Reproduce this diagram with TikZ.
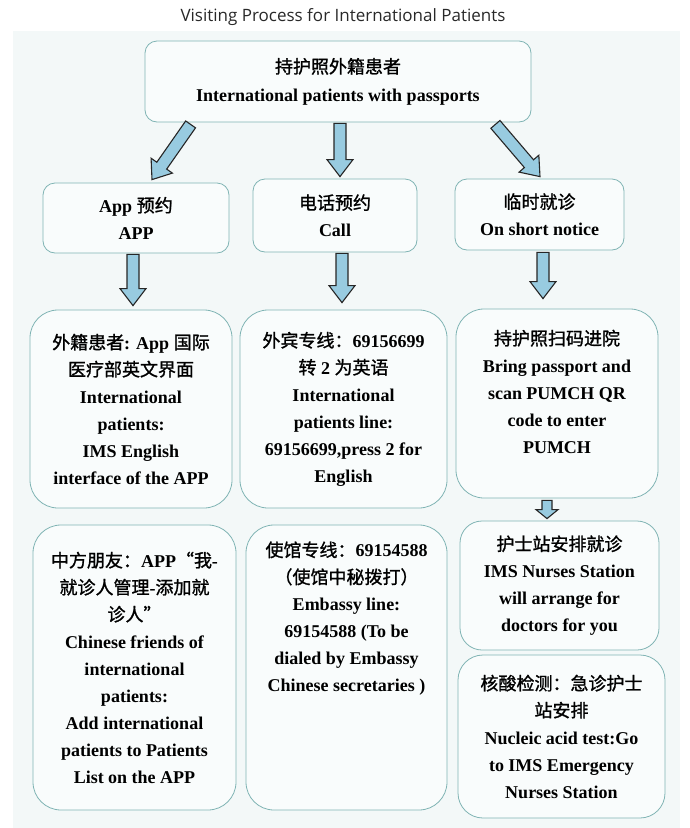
\documentclass[tikz,border=0pt]{standalone}
\usepackage{fontspec}
\setmainfont{Liberation Serif}
\newfontfamily\zhfont{Noto Sans CJK SC}[FakeBold=1.2]
\newfontfamily\titlefont{Open Sans}
\usepackage{xcolor}
\usepackage{tikz}
\usetikzlibrary{calc, positioning}
\definecolor{panelcolor}{RGB}{243,248,248}
\definecolor{boxcolor}{RGB}{249,252,252}
\definecolor{edgecolor}{RGB}{128,180,180}
\definecolor{arrowcolor}{RGB}{152,203,224}
\definecolor{titlecolor}{RGB}{40,40,40}
\newcommand{\zh}[1]{{\zhfont\mdseries #1}}

% fat arrow: start, end, half shaft, half head, head length
\newcommand{\blockarrow}[5]{%
  \path #1 coordinate (ba-s) #2 coordinate (ba-e);
  \coordinate (ba-n) at ($(ba-e)!#5!(ba-s)$);
  \filldraw[arrowbody] ($(ba-s)!#3!90:(ba-e)$) -- ($(ba-n)!#3!90:(ba-e)$)
    -- ($(ba-n)!#4!90:(ba-e)$) -- (ba-e) -- ($(ba-n)!#4!-90:(ba-e)$)
    -- ($(ba-n)!#3!-90:(ba-e)$) -- ($(ba-s)!#3!-90:(ba-e)$) -- cycle;
}

\begin{document}
\begin{tikzpicture}[x=1pt, y=-1pt,
    panelbox/.style={draw=edgecolor, fill=boxcolor, line width=0.8pt, align=center,
      font=\bfseries\fontsize{18}{27}\selectfont, inner sep=2pt},
    infotext/.style={align=center, font=\bfseries\fontsize{18}{27}\selectfont, inner sep=0pt},
    arrowbody/.style={fill=arrowcolor, draw=black!85, line width=1.1pt}]
    \useasboundingbox (0,0) rectangle (690,828);
    % background
    \fill[panelcolor] (13,31) rectangle (680,828);
    \node[font=\titlefont\fontsize{17}{20}\selectfont, text=titlecolor] (title) at (343,17) {Visiting Process for International Patients};

    % Top
    \node[panelbox, rounded corners=12pt, minimum width=386pt, minimum height=81pt,
      font=\bfseries\fontsize{18}{28}\selectfont] (patients) at (338,81.5)
      {\zh{持护照外籍患者}\\International patients with passports};

    % Ways to book
    \node[panelbox, rounded corners=12pt, minimum width=186pt, minimum height=70pt] (appbook) at (136,218)
      {App \zh{预约}\\APP};
    \node[panelbox, rounded corners=12pt, minimum width=164pt, minimum height=73pt] (callbook) at (335,215.5)
      {\zh{电话预约}\\Call};
    \node[panelbox, rounded corners=12pt, minimum width=169pt, minimum height=71pt] (notice) at (539.5,214.5)
      {\zh{临时就诊}\\On short notice};

    % Details
    \node[panelbox, rounded corners=28pt, minimum width=202pt, minimum height=198pt] (appinfo) at (131,409)
      {\zh{外籍患者}: App \zh{国际}\\\zh{医疗部英文界面}\\International\\patients:\\IMS English\\interface of the APP};
    \node[panelbox, rounded corners=28pt, minimum width=207pt, minimum height=198pt] (callinfo) at (343.5,409)
      {\zh{外宾专线：}69156699\\\zh{转} 2 \zh{为英语}\\International\\patients line:\\69156699,press 2 for\\English};
    \node[panelbox, rounded corners=28pt, minimum width=202pt, minimum height=189pt] (scaninfo) at (557,403.5) {};
    \node[infotext] (scantext) at ($(scaninfo.center)+(0,-12)$)
      {\zh{持护照扫码进院}\\Bring passport and\\scan PUMCH QR\\code to enter\\PUMCH};

    % Second details
    \node[panelbox, rounded corners=28pt, minimum width=203pt, minimum height=285pt] (friendinfo) at (134.5,667.5)
      {\zh{中方朋友：}APP\zh{“我}-\\\zh{就诊人管理}-\zh{添加就}\\\zh{诊人”}\\Chinese friends of\\international\\patients:\\Add international\\patients to Patients\\List on the APP};
    \node[panelbox, rounded corners=28pt, minimum width=201pt, minimum height=285pt] (embassyinfo) at (346.5,667.5) {};
    \node[infotext] (embassytext) at ($(embassyinfo.center)+(0,-49)$)
      {\zh{使馆专线：}69154588\\\zh{（使馆中秘拨打）}\\Embassy line:\\69154588 (To be\\dialed by Embassy\\Chinese secretaries )};
    \node[panelbox, rounded corners=22pt, minimum width=199pt, minimum height=129pt] (nursebox) at (559.5,585.5)
      {\zh{护士站安排就诊}\\IMS Nurses Station\\will arrange for\\doctors for you};
    \node[panelbox, rounded corners=25pt, minimum width=207pt, minimum height=163pt] (testbox) at (561.5,736.5)
      {\zh{核酸检测：急诊护士}\\\zh{站安排}\\Nucleic acid test:Go\\to IMS Emergency\\Nurses Station};

    % Arrows
    \blockarrow{($(patients.south west)+(46,2)$)}{($(appbook.north)+(16,-3)$)}{6pt}{13pt}{17pt}
    \blockarrow{($(patients.south)+(2,1)$)}{($(callbook.north)+(5,-2)$)}{6pt}{13pt}{17pt}
    \blockarrow{($(patients.south east)+(-36,2)$)}{($(notice.north)+(0.5,-2)$)}{6pt}{13pt}{17pt}
    \blockarrow{($(appbook.south)+(-3,1)$)}{($(appbook.south |- appinfo.north)+(-3,-4)$)}{6pt}{13pt}{17pt}
    \blockarrow{($(callbook.south)+(7,1)$)}{($(callbook.south |- callinfo.north)+(7,-7)$)}{6pt}{13pt}{17pt}
    \blockarrow{($(notice.south)+(3.5,2)$)}{($(notice.south |- scaninfo.north)+(3.5,-10)$)}{6pt}{13pt}{17pt}
    \blockarrow{($(scaninfo.south)+(-10,2)$)}{($(scaninfo.south |- nursebox.north)+(-10,-2)$)}{5pt}{11pt}{9pt}
\end{tikzpicture}
\end{document}
